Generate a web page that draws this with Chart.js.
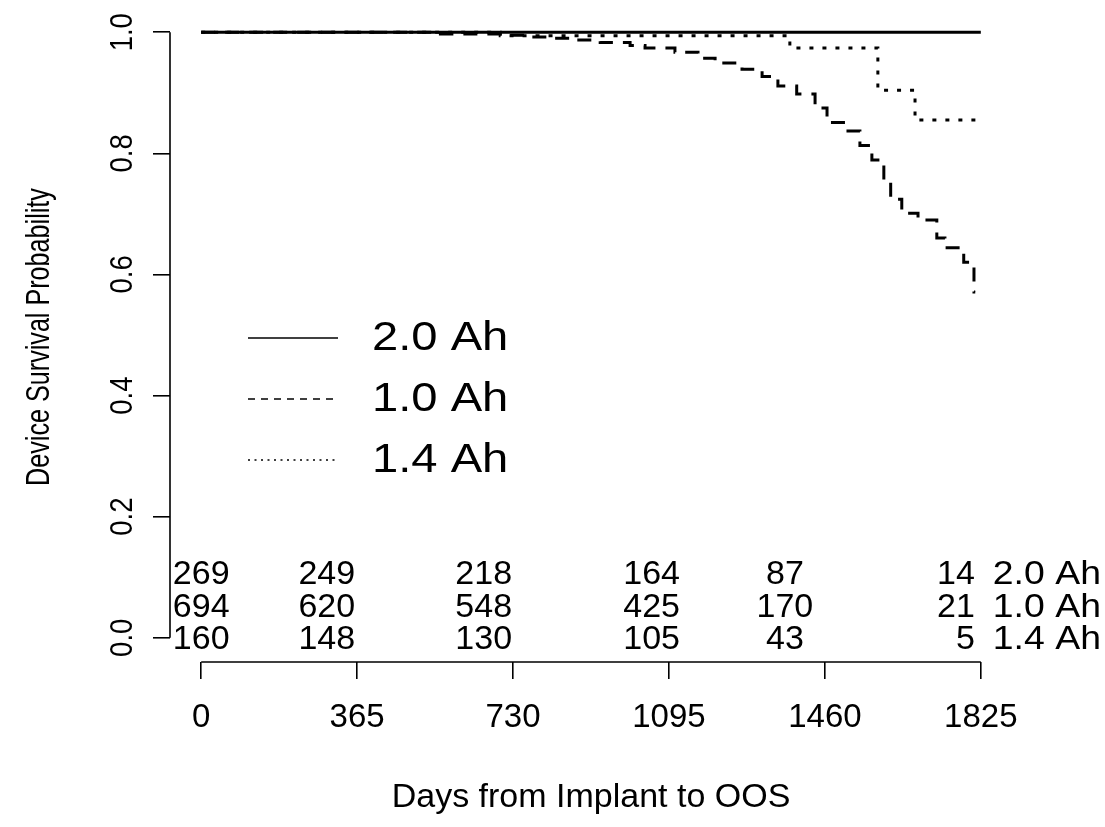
<!DOCTYPE html>
<html><head><meta charset="utf-8">
<script src="https://cdn.jsdelivr.net/npm/chart.js@4"></script>
<style>html,body{margin:0;padding:0;background:#fff;}#wrap{width:1105px;height:827px;position:relative;background:#fff;}</style>
</head><body><div id="wrap"><canvas id="c" width="1105" height="827"></canvas></div>
<script>
// ---- data ----
const groupLabels = ['2.0 Ah', '1.0 Ah', '1.4 Ah'];
const days20 = [0, 1825];
const surv20 = [1.0, 1.0];
const days10 = [0, 560, 700, 758, 817, 875, 934, 1004, 1039, 1109, 1163, 1203, 1266, 1313, 1350, 1394, 1437, 1465, 1507, 1542, 1570, 1598, 1614, 1640, 1678, 1722, 1741, 1785, 1809, 1812];
const surv10 = [1.0, 0.997, 0.995, 0.992, 0.990, 0.987, 0.983, 0.978, 0.974, 0.967, 0.957, 0.949, 0.939, 0.927, 0.911, 0.898, 0.875, 0.851, 0.837, 0.813, 0.789, 0.756, 0.724, 0.701, 0.690, 0.660, 0.644, 0.620, 0.571, 0.571];
const days14 = [0, 700, 1378, 1584, 1671, 1825];
const surv14 = [1.0, 0.994, 0.974, 0.904, 0.855, 0.855];
const xTicks = [0, 365, 730, 1095, 1460, 1825];
const yTicks = [0, 0.2, 0.4, 0.6, 0.8, 1.0];
const yTickLabels = ['0.0', '0.2', '0.4', '0.6', '0.8', '1.0'];
const atRiskTimes = [0, 365, 730, 1095, 1460, 1825];
const atRisk20 = [269, 249, 218, 164, 87, 14];
const atRisk10 = [694, 620, 548, 425, 170, 21];
const atRisk14 = [160, 148, 130, 105, 43, 5];
const xTitle = 'Days from Implant to OOS';
const yTitle = 'Device Survival Probability';

// ---- rendering ----
const FONT = "'Liberation Sans', Arial, Helvetica, sans-serif";
const toXY = (d, s) => d.map((v, i) => ({x: v, y: s[i]}));
const curveStyles = [
  {dash: [], legendDash: []},
  {dash: [14, 10], legendDash: [7, 6]},
  {dash: [4, 9], legendDash: [2, 4.5]}
];
// how each at-risk column is anchored relative to its time
const colAlign = ['center', 'right', 'right', 'right', 'center', 'right'];
const colShift = [0, -2, -1, 11, -40, -6];

const annot = {
  id: 'annot',
  afterDraw(chart) {
    const ctx = chart.ctx, xs = chart.scales.x, ys = chart.scales.y, ca = chart.chartArea;
    ctx.save();
    ctx.strokeStyle = '#000'; ctx.fillStyle = '#000';
    ctx.lineWidth = 1.6; ctx.setLineDash([]);
    // axis lines (from first to last tick, R style)
    ctx.beginPath();
    ctx.moveTo(xs.getPixelForValue(xTicks[0]), ca.bottom);
    ctx.lineTo(xs.getPixelForValue(xTicks[xTicks.length - 1]), ca.bottom);
    ctx.moveTo(ca.left, ys.getPixelForValue(yTicks[0]));
    ctx.lineTo(ca.left, ys.getPixelForValue(yTicks[yTicks.length - 1]));
    ctx.stroke();
    // y tick labels (rotated)
    ctx.font = `32px ${FONT}`; ctx.textAlign = 'center'; ctx.textBaseline = 'middle';
    yTicks.forEach((v, i) => {
      ctx.save();
      ctx.translate(123, ys.getPixelForValue(v));
      ctx.rotate(-Math.PI / 2); ctx.scale(0.86, 1);
      ctx.fillText(yTickLabels[i], 0, 0);
      ctx.restore();
    });
    // y title
    ctx.save();
    ctx.font = `34px ${FONT}`;
    ctx.translate(40, (ca.top + ca.bottom) / 2 + 2);
    ctx.rotate(-Math.PI / 2); ctx.scale(0.74, 1);
    ctx.fillText(yTitle, 0, 0);
    ctx.restore();
    // x title
    ctx.font = `34px ${FONT}`;
    ctx.fillText(xTitle, (ca.left + ca.right) / 2, 798);
    // at-risk table
    const rows = [atRisk20, atRisk10, atRisk14];
    const y0 = ys.getPixelForValue(0);
    ctx.font = `34px ${FONT}`;
    rows.forEach((row, r) => {
      const py = y0 + 2 - 32.5 * (rows.length - 1 - r);
      row.forEach((n, j) => {
        ctx.textAlign = colAlign[j];
        ctx.fillText(String(n), xs.getPixelForValue(atRiskTimes[j]) + colShift[j], py);
      });
      ctx.save();
      ctx.textAlign = 'left';
      ctx.translate(xs.getPixelForValue(atRiskTimes[atRiskTimes.length - 1]) + 12, py);
      ctx.scale(1.1, 1);
      ctx.fillText(groupLabels[r], 0, 0);
      ctx.restore();
    });
    // legend
    ctx.font = `41px ${FONT}`; ctx.textAlign = 'left';
    groupLabels.forEach((lab, i) => {
      const py = 338 + 61 * i;
      ctx.lineWidth = 1.5; ctx.setLineDash(curveStyles[i].legendDash);
      ctx.beginPath(); ctx.moveTo(248, py); ctx.lineTo(338, py); ctx.stroke();
      ctx.setLineDash([]);
      ctx.save();
      ctx.translate(372, py + 1); ctx.scale(1.15, 1);
      ctx.fillText(lab, 0, 0);
      ctx.restore();
    });
    ctx.restore();
  }
};

const mkDs = (label, d, s, i) => ({
  label, data: toXY(d, s), borderColor: '#000', backgroundColor: '#000',
  borderWidth: 3, borderDash: curveStyles[i].dash, pointRadius: 0, fill: false,
  stepped: true, tension: 0, borderCapStyle: 'butt', borderJoinStyle: 'miter'
});

new Chart(document.getElementById('c'), {
  type: 'line',
  data: { datasets: [
    mkDs(groupLabels[0], days20, surv20, 0),
    mkDs(groupLabels[1], days10, surv10, 1),
    mkDs(groupLabels[2], days14, surv14, 2)
  ]},
  options: {
    responsive: false, animation: false, devicePixelRatio: 1,
    layout: { padding: { top: 8, right: 93, left: 0, bottom: 0 } },
    plugins: { legend: { display: false }, tooltip: { enabled: false } },
    scales: {
      x: {
        type: 'linear', min: -73, max: 1898,
        afterBuildTicks: s => { s.ticks = xTicks.map(v => ({value: v})); },
        afterFit: s => { s.height = 165; },
        grid: { drawOnChartArea: false, drawTicks: true, tickLength: 17, color: '#000', lineWidth: 1.6 },
        border: { display: false },
        ticks: { color: '#000', font: { family: FONT, size: 33 }, padding: 19, maxRotation: 0, autoSkip: false, callback: v => String(v) }
      },
      y: {
        type: 'linear', min: -0.04, max: 1.04,
        afterBuildTicks: s => { s.ticks = yTicks.map(v => ({value: v})); },
        afterFit: s => { s.width = 170; },
        grid: { drawOnChartArea: false, drawTicks: true, tickLength: 17, color: '#000', lineWidth: 1.6 },
        border: { display: false },
        ticks: { display: false }
      }
    }
  },
  plugins: [annot]
});
</script>
</body></html>
